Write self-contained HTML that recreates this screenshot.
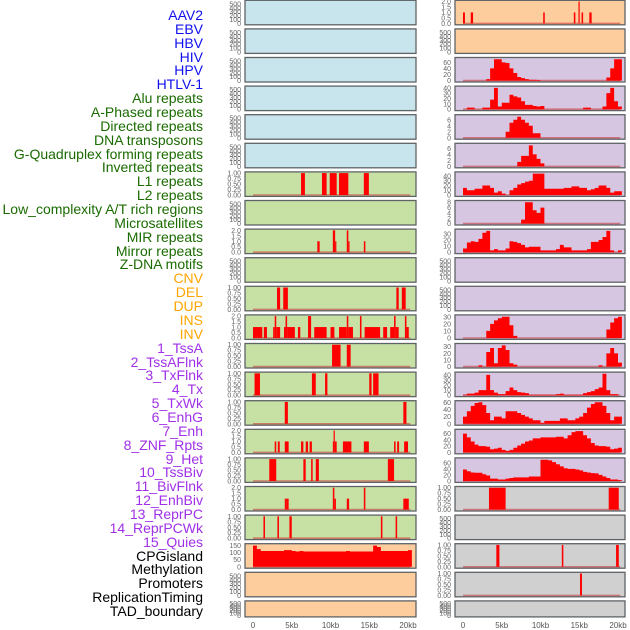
<!DOCTYPE html>
<html><head><meta charset="utf-8">
<style>
html,body{margin:0;padding:0;background:#fff;}
#wrap{position:relative;width:630px;height:630px;overflow:hidden;}
.lbl{position:absolute;right:427px;font:14px "Liberation Sans",sans-serif;white-space:nowrap;line-height:14px;}
svg{position:absolute;left:0;top:0;}
</style></head>
<body>
<div id="wrap">
<div id="labels"></div>
<svg id="chart" width="630" height="630"></svg>
</div>
<script>
// ---- label data ----
const trackNames = ["AAV2","EBV","HBV","HIV","HPV","HTLV-1","Alu repeats","A-Phased repeats","Directed repeats","DNA transposons","G-Quadruplex forming repeats","Inverted repeats","L1 repeats","L2 repeats","Low_complexity A/T rich regions","Microsatellites","MIR repeats","Mirror repeats","Z-DNA motifs","CNV","DEL","DUP","INS","INV","1_TssA","2_TssAFlnk","3_TxFlnk","4_Tx","5_TxWk","6_EnhG","7_Enh","8_ZNF_Rpts","9_Het","10_TssBiv","11_BivFlnk","12_EnhBiv","13_ReprPC","14_ReprPCWk","15_Quies","CPGisland","Methylation","Promoters","ReplicationTiming","TAD_boundary"];
const trackGroups = [0,0,0,0,0,0,1,1,1,1,1,1,1,1,1,1,1,1,1,2,2,2,2,2,3,3,3,3,3,3,3,3,3,3,3,3,3,3,3,4,4,4,4,4];
const groupColors = ["#1010ee","#1a6b00","#ffa500","#a030e8","#000000"];

// ---- x axis ----
const xTickKb = [0,5,10,15,20];
const xTickLabels = ["0","5kb","10kb","15kb","20kb"];

// ---- right column profile data (0.5kb bins) ----
const binsR2 = [0,0,0,0,0,0,5,40,70,70,60,58,40,25,12,8,5,3,3,2,0,0,0,0,0,0,0,0,0,0,0,0,0,0,0,0,0,10,40,70,70];
const binsR3 = [0,3,3,0,0,3,3,18,40,5,12,12,27,24,22,15,8,8,6,5,6,0,0,0,0,0,0,0,0,0,0,3,3,0,0,0,5,30,40,15,5];
const binsR4 = [0,0,0,0,0,0,0,0,0,0,0,2,5,6,7,6,5,4,1.5,1.5];
const binsR5 = [0,0,0,0,0,0,0,0,0,0,0,0,0,0,1.5,3.5,3.5,7,4,2.5,1];
const binsR6 = [15,10,10,13,13,20,20,15,5,8,3,0,10,15,22,25,28,30,45,45,45,13,13,13,13,13,15,15,18,18,15,15,10,12,15,20,20,15,5,8,8];
const binsR7 = [0,0,0,0,0,0,0,0,0,0,0,0,0,0,0,1.5,8,8,5,4,6];
const binsR8 = [6,16,18,17,22,32,35,3,5,3,3,6,18,17,15,12,8,9,9,9,3,3,3,3,5,12,8,8,3,3,3,3,5,17,17,20,25,35,3,0,3];
const binsR11 = [0,0,0,0,0,0,10,20,25,28,30,30,18,3,0,0,0,0,0,0,0,0,0,0,0,0,0,0,0,0,0,0,0,0,0,0,0,12,22,28,30];
const binsR12 = [0,0,0,0,2,0,22,28,5,28,32,25,5,3,0,0,0,0,0,0,0,0,0,0,0,0,0,0,0,0,0,0,0,0,0,2,0,20,28,20,6];
const binsR13 = [1,3,3,5,10,10,40,10,5,2,2,8,15,10,6,5,4,1,1,1,1,1,1,1,2,3,1,1,1,1,1,4,6,8,12,15,42,10,2,2,0];
const binsR14 = [20,35,50,58,60,52,30,10,20,20,15,35,35,35,30,25,20,15,10,10,3,8,8,8,8,15,15,10,10,15,20,30,45,55,60,60,50,30,10,20,20];
const binsR15 = [60,48,35,25,20,20,18,10,12,15,8,5,8,15,22,28,35,38,45,45,48,48,48,48,50,50,45,55,65,68,68,55,45,30,22,20,20,18,10,12,15];
const binsR16 = [38,32,28,27,27,22,18,8,8,5,5,8,10,12,12,12,12,15,15,15,70,70,68,62,55,48,42,40,40,38,35,30,28,26,25,20,15,10,5,5,3];
const binsL19 = [150,125,112,112,112,112,112,112,118,118,112,108,112,108,108,108,108,108,108,108,108,108,108,108,112,108,108,108,108,108,108,150,140,112,112,112,112,112,112,112,118];

// ---- interval data [startKb, endKb, value] ----
const barsR0 = [[0.0,0.25,1],[1.0,1.3,1],[10.35,10.55,1],[14.3,14.5,1],[14.9,15.05,2],[15.3,15.5,1],[16.3,16.6,1]];
const barsR17 = [[3.35,5.5,1],[18.8,20.1,1]];
const barsR19 = [[4.3,4.7,1],[12.75,12.95,1],[19.75,20.1,1]];
const barsR20 = [[15.1,15.35,1]];
const barsL6 = [[6.2,6.7,1],[8.9,9.5,1],[9.9,10.8,1],[11.1,12.3,1],[14.3,14.95,1]];
const barsL8 = [[8.3,8.6,1],[10.3,10.6,2],[10.6,10.7,1],[12.1,12.3,2],[12.3,12.4,1],[14.3,14.5,1]];
const barsL10 = [[3.1,3.5,1],[3.9,4.5,1],[18.5,18.8,1],[19.2,19.7,1]];
const barsL11 = [[0,1.2,1],[1.4,1.8,1],[2.6,2.8,1],[2.8,3.0,2],[3.0,3.5,1],[4.0,4.2,1],[4.2,4.4,2],[4.4,5.4,1],[5.8,6.1,1],[7.1,7.5,2],[7.9,9.5,1],[10.0,10.5,1],[11.1,12.1,1],[12.1,12.3,2],[12.3,12.9,1],[13.8,14.0,2],[14.4,16.4,1],[16.8,17.3,1],[17.7,18.2,1],[18.2,18.4,2],[18.4,18.8,1],[19.6,19.8,2],[19.8,20.1,1]];
const barsL12 = [[10.2,11.3,1],[12.1,12.6,1]];
const barsL13 = [[0.2,0.9,1],[7.6,8.1,1],[9.3,9.6,1],[15.0,15.3,1],[15.5,16.2,1]];
const barsL14 = [[4.1,4.5,1],[19.4,19.8,1]];
const barsL15 = [[2.8,3.0,1],[3.2,3.45,1],[4.1,4.6,1],[6.2,6.5,1],[6.8,7.1,1],[7.3,7.6,1],[10.3,10.4,1],[10.4,10.55,2],[10.55,10.8,1],[11.6,12.7,1],[14.3,14.95,1],[18.2,18.4,1],[18.6,18.85,1],[19.5,20.0,1]];
const barsL16 = [[2.1,3.0,1],[6.5,6.8,1],[7.5,7.7,1],[8.1,8.5,1],[17.4,18.2,1]];
const barsL17 = [[4.1,4.3,1],[4.3,4.6,1],[10.3,10.5,2],[10.5,10.7,1],[12.1,12.4,1],[14.3,14.5,2],[19.4,20.1,1]];
const barsL18 = [[1.35,1.55,1],[3.15,3.35,1],[4.7,5.0,1],[16.5,16.7,1],[18.4,18.6,1]];

// ---- tick sets ----
const tEmpty=[0,100,200,300,400,500], t1=[0,0.25,0.5,0.75,1], t2=[0,0.5,1,1.5,2];
const tk = {e:tEmpty,one:t1,two:t2};

// panel specs: column, row, bg, kind, data, max, ticks, tickLabels
const BLUE="#c8e4ec", GREEN="#c7e1a5", ORANGE="#fecd9d", PURPLE="#d6c6e2", GREY="#d0d0d0";
const panels = [];
function P(col,row,bg,kind,data,max,ticks,labels){panels.push({col,row,bg,kind,data,max,ticks,labels});}
const lblE = ["0","100","200","300","400","500"], lbl1=["0.00","0.25","0.50","0.75","1.00"], lbl2=["0.0","0.5","1.0","1.5","2.0"];
for(let r=0;r<6;r++) P(0,r,BLUE,"empty",null,560,tEmpty,lblE);
P(0,6,GREEN,"bars",barsL6,1,t1,lbl1);
P(0,7,GREEN,"empty",null,560,tEmpty,lblE);
P(0,8,GREEN,"bars",barsL8,2,t2,lbl2);
P(0,9,GREEN,"empty",null,560,tEmpty,lblE);
P(0,10,GREEN,"bars",barsL10,1,t1,lbl1);
P(0,11,GREEN,"bars",barsL11,2,t2,lbl2);
P(0,12,GREEN,"bars",barsL12,1,t1,lbl1);
P(0,13,GREEN,"bars",barsL13,1,t1,lbl1);
P(0,14,GREEN,"bars",barsL14,1,t1,lbl1);
P(0,15,GREEN,"bars",barsL15,2,t2,lbl2);
P(0,16,GREEN,"bars",barsL16,1,t1,lbl1);
P(0,17,GREEN,"bars",barsL17,2,t2,lbl2);
P(0,18,GREEN,"bars",barsL18,1,t1,lbl1);
P(0,19,ORANGE,"bins",binsL19,155,[0,50,100,150],["0","50","100","150"]);
P(0,20,ORANGE,"empty",null,560,tEmpty,lblE);
P(0,21,ORANGE,"empty",null,560,tEmpty,lblE);
P(1,0,ORANGE,"bars",barsR0,2,t2,lbl2);
P(1,1,ORANGE,"empty",null,560,tEmpty,lblE);
P(1,2,PURPLE,"bins",binsR2,72,[0,20,40,60],["0","20","40","60"]);
P(1,3,PURPLE,"bins",binsR3,41,[0,10,20,30,40],["0","10","20","30","40"]);
P(1,4,PURPLE,"bins",binsR4,7.3,[0,2,4,6],["0","2","4","6"]);
P(1,5,PURPLE,"bins",binsR5,7.3,[0,2,4,6],["0","2","4","6"]);
P(1,6,PURPLE,"bins",binsR6,46,[0,10,20,30,40],["0","10","20","30","40"]);
P(1,7,PURPLE,"bins",binsR7,8.2,[0,2,4,6,8],["0","2","4","6","8"]);
P(1,8,PURPLE,"bins",binsR8,36,[0,10,20,30],["0","10","20","30"]);
P(1,9,PURPLE,"empty",null,560,tEmpty,lblE);
P(1,10,PURPLE,"empty",null,560,tEmpty,lblE);
P(1,11,PURPLE,"bins",binsR11,31,[0,10,20,30],["0","10","20","30"]);
P(1,12,PURPLE,"bins",binsR12,33,[0,10,20,30],["0","10","20","30"]);
P(1,13,PURPLE,"bins",binsR13,43,[0,10,20,30,40],["0","10","20","30","40"]);
P(1,14,PURPLE,"bins",binsR14,61,[0,20,40,60],["0","20","40","60"]);
P(1,15,PURPLE,"bins",binsR15,70,[0,20,40,60],["0","20","40","60"]);
P(1,16,PURPLE,"bins",binsR16,72,[0,20,40,60],["0","20","40","60"]);
P(1,17,GREY,"bars",barsR17,1,t1,lbl1);
P(1,18,GREY,"empty",null,560,tEmpty,lblE);
P(1,19,GREY,"bars",barsR19,1,t1,lbl1);
P(1,20,GREY,"bars",barsR20,1,t1,lbl1);
P(1,21,GREY,"empty",null,560,tEmpty,lblE);

// ---- labels ----
const labDiv=document.getElementById('labels');
trackNames.forEach((n,i)=>{
  const d=document.createElement('div');
  d.className='lbl';
  
  
  d.style.top=(15+i*13.86-7)+'px';
  d.style.color=groupColors[trackGroups[i]];
  d.textContent=n;
  labDiv.appendChild(d);
});

// ---- scales ----
const NS="http://www.w3.org/2000/svg";
const svg=document.getElementById('chart');
function boxLeft(c){return c?455:245;}
function boxRight(c){return c?625:416;}
function xScale(c,kb){return (c?463:253)+kb*7.75;}
function rowTop(r){return r*28.6+0.3;}
function rowH(r){return r==21?16:24.5;}
function yScale(r,v,max){const t=rowTop(r),h=rowH(r);const z=t+h-1.4,tp=t+1.2;return z-(v/max)*(z-tp);}
function el(tag,attrs,parent){const e=document.createElementNS(NS,tag);for(const k in attrs)e.setAttribute(k,attrs[k]);(parent||svg).appendChild(e);return e;}

panels.forEach((p,pi)=>{
  const g=el('g',{});
  
  
  const x0=boxLeft(p.col),x1=boxRight(p.col),t=rowTop(p.row),h=rowH(p.row);
  const bg=el('rect',{x:x0,y:t,width:x1-x0,height:h,fill:p.bg},g);
  
  
  const cid='clip'+pi;
  const cp=el('clipPath',{id:cid},g);
  el('rect',{x:x0,y:t,width:x1-x0,height:h},cp);
  const dg=el('g',{'clip-path':'url(#'+cid+')'},g);
  if(p.kind!=="empty"){
    const base=el('line',{x1:xScale(p.col,0),x2:xScale(p.col,20.3),y1:yScale(p.row,0,p.max),y2:yScale(p.row,0,p.max),stroke:"rgba(200,60,60,0.6)","stroke-width":1.6},dg);
    
    
  }
  if(p.kind==="bars"){
    p.data.forEach(b=>{
      const y=yScale(p.row,b[2],p.max),y0=yScale(p.row,0,p.max);
      const xa=xScale(p.col,b[0]),xb=xScale(p.col,b[1]);
      const r=el('rect',{x:xa,y:y,width:Math.max(1.2,xb-xa),height:y0-y,fill:"#ff0000"},dg);
      
      
    });
  } else if(p.kind==="bins"){
    const y0=yScale(p.row,0,p.max);
    let d="M"+xScale(p.col,0)+","+y0;
    p.data.forEach((v,i)=>{
      const y=yScale(p.row,v,p.max);
      d+=" L"+xScale(p.col,i*0.5)+","+y+" L"+xScale(p.col,(i+1)*0.5)+","+y;
    });
    d+=" L"+xScale(p.col,p.data.length*0.5)+","+y0+" Z";
    const pa=el('path',{d:d,fill:"#ff0000"},dg);
    
    
  }
  const fr=el('rect',{x:x0,y:t,width:x1-x0,height:h,fill:"none",stroke:"#5f6366","stroke-width":1.3},g);
  
  
  p.ticks.forEach((v,i)=>{
    const tx=el('text',{x:x0-4,y:yScale(p.row,v,p.max)+2.5,"text-anchor":"end","font-family":"Liberation Sans, sans-serif","font-size":7,fill:"#666"},g);
    
    
    tx.textContent=p.labels[i];
  });
});

// x axis labels
[0,1].forEach(c=>{
  xTickKb.forEach((kb,i)=>{
    const tx=el('text',{x:xScale(c,kb),y:628,"text-anchor":"middle","font-family":"Liberation Sans, sans-serif","font-size":8,fill:"#555"});
    
    
    tx.textContent=xTickLabels[i];
  });
});
</script>
</body></html>
